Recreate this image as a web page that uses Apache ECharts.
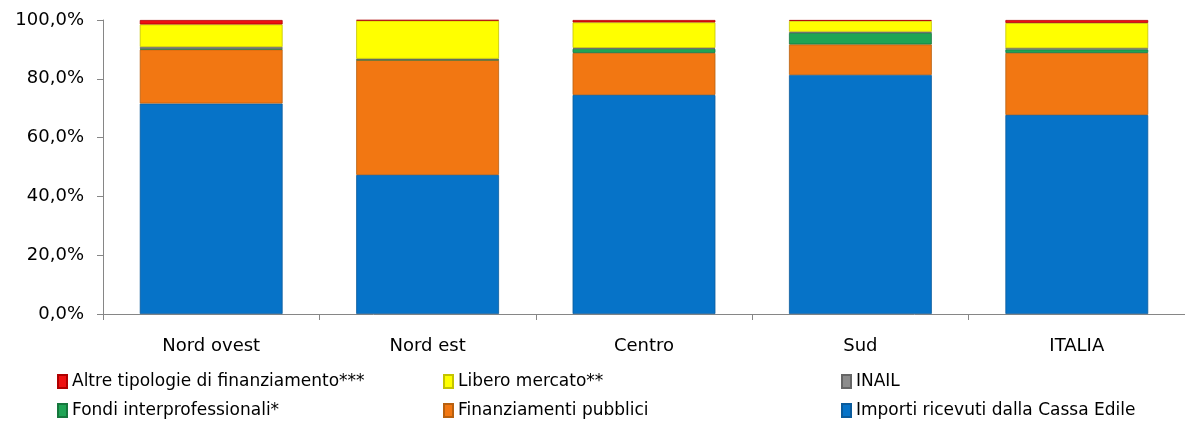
<!DOCTYPE html>
<html>
<head>
<meta charset="utf-8">
<script src="https://cdn.jsdelivr.net/npm/echarts@6/dist/echarts.min.js"></script>
<style>
html,body{margin:0;padding:0;background:#fff;}
#chart{width:1185px;height:423px;}
</style>
</head>
<body>
<div id="chart"></div>
<script>
var categories = ['Nord ovest', 'Nord est', 'Centro', 'Sud', 'ITALIA'];
var importiCassaEdile = [71.6, 47.3, 74.5, 81.3, 67.7];
var finanziamentiPubblici = [18.4, 39.1, 14.3, 10.4, 21.1];
var fondiInterprofessionali = [0.2, 0.1, 1.4, 3.9, 1.2];
var inail = [0.6, 0.3, 0.3, 0.4, 0.4];
var liberoMercato = [7.7, 13.0, 8.7, 3.7, 8.6];
var altreTipologie = [1.5, 0.2, 0.8, 0.3, 1.0];
var yTicks = [0, 20, 40, 60, 80, 100];

var FONT = 'DejaVu Sans';
var seriesDefs = [
  {name: 'Importi ricevuti dalla Cassa Edile', data: importiCassaEdile, color: '#0673C8', border: '#0a5b9c'},
  {name: 'Finanziamenti pubblici', data: finanziamentiPubblici, color: '#F27712', border: '#b8600f'},
  {name: 'Fondi interprofessionali*', data: fondiInterprofessionali, color: '#1FA455', border: '#16773d'},
  {name: 'INAIL', data: inail, color: '#8C8C8C', border: '#666666'},
  {name: 'Libero mercato**', data: liberoMercato, color: '#FFFF00', border: '#c4c400'},
  {name: 'Altre tipologie di finanziamento***', data: altreTipologie, color: '#EE1111', border: '#b00000'}
];

var series = seriesDefs.map(function (s) {
  return {
    name: s.name,
    type: 'bar',
    stack: 'total',
    barWidth: '66%',
    data: s.data,
    itemStyle: {
      color: s.color,
      borderColor: s.border,
      borderWidth: 0.8
    },
    emphasis: {disabled: true}
  };
});

var legendText = {fontFamily: FONT, fontSize: 17, color: '#000'};
function legendItem(left, top, name) {
  return {
    orient: 'horizontal', left: left, top: top,
    itemWidth: 9, itemHeight: 13, itemGap: 4,
    icon: 'rect',
    textStyle: legendText,
    data: [name],
    selectedMode: false,
    padding: 0
  };
}

var chart = echarts.init(document.getElementById('chart'), null, {renderer: 'canvas'});
chart.setOption({
  animation: false,
  backgroundColor: '#fff',
  grid: {left: 103, right: -11, top: 20, bottom: 109, containLabel: false},
  legend: [
    legendItem(57, 373, 'Altre tipologie di finanziamento***'),
    legendItem(57, 402, 'Fondi interprofessionali*'),
    legendItem(443, 373, 'Libero mercato**'),
    legendItem(443, 402, 'Finanziamenti pubblici'),
    legendItem(841, 373, 'INAIL'),
    legendItem(841, 402, 'Importi ricevuti dalla Cassa Edile')
  ],
  xAxis: {
    type: 'category',
    data: categories,
    axisLine: {lineStyle: {color: '#868686', width: 1}},
    axisTick: {show: true, length: 6, lineStyle: {color: '#868686'}, alignWithLabel: false},
    axisLabel: {fontFamily: FONT, fontSize: 18, color: '#000', margin: 23}
  },
  yAxis: {
    type: 'value',
    min: 0, max: 100, interval: 20,
    axisLine: {show: true, lineStyle: {color: '#868686', width: 1}},
    axisTick: {show: true, length: 6, lineStyle: {color: '#868686'}},
    splitLine: {show: false},
    axisLabel: {
      fontFamily: FONT, fontSize: 18, color: '#000', margin: 19,
      formatter: function (v) { return yTicks.indexOf(v) >= 0 ? v.toFixed(1).replace('.', ',') + '%' : ''; }
    }
  },
  series: series
});
</script>
</body>
</html>
